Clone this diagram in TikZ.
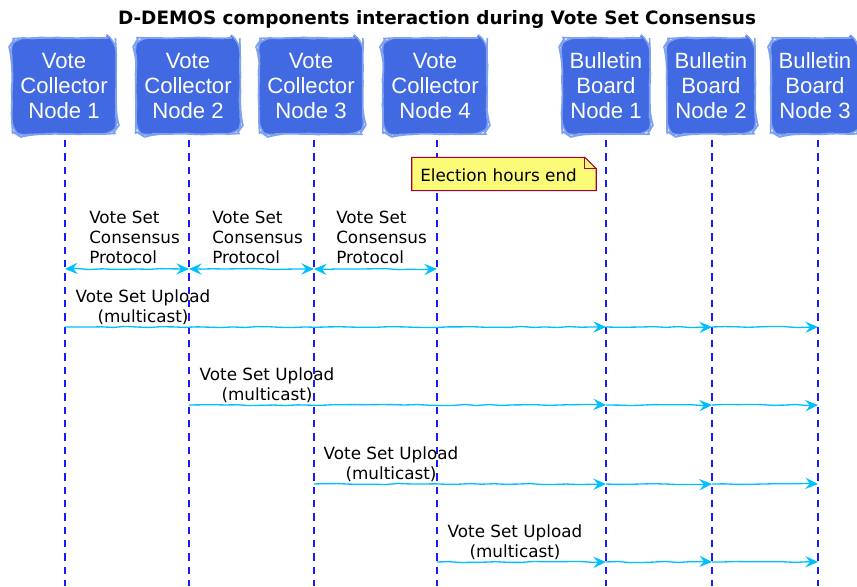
\documentclass[tikz,border=0pt]{standalone}
\usepackage{fontspec}
\setmainfont{DejaVu Sans}
\newfontfamily\boxfont{Liberation Sans}
\usetikzlibrary{arrows.meta,decorations.pathmorphing}
\definecolor{partfill}{HTML}{4169E1}
\definecolor{partedge}{HTML}{7FA2EE}
\definecolor{lifeblue}{HTML}{1A1AFF}
\definecolor{msgblue}{HTML}{00BFFF}
\definecolor{notefill}{HTML}{FBFB77}
\definecolor{noteedge}{HTML}{A80036}
\tikzset{
  x=0.75pt, y=-0.75pt,
  part/.style={draw=partedge, line width=1.2pt, fill=partfill, rounded corners=8pt,
    text=white, font=\boxfont\fontsize{16.6}{18.75}\selectfont, align=center,
    minimum height=72pt, inner sep=0pt,
    decorate, decoration={random steps, segment length=6pt, amplitude=0.4pt}},
  vcbox/.style={part, minimum width=78pt},
  bbbox/.style={part, minimum width=66pt},
  lifeline/.style={draw=lifeblue, line width=0.9pt, dash pattern=on 5.5pt off 4.5pt},
  msg/.style={draw=msgblue, line width=1pt,
    decorate, decoration={random steps, segment length=9pt, amplitude=0.45pt}},
  head/.tip={Stealth[length=9.5pt,width=8.5pt,inset=3.5pt]},
  tip/.style={-head},
  msgtxt/.style={font=\fontsize{12.6}{15}\selectfont, inner sep=0pt},
}
\begin{document}
\begin{tikzpicture}
\useasboundingbox (0,0) rectangle (857,586);

% title
\node[font=\bfseries\fontsize{13.8}{16}\selectfont] (title) at (437,19)
  {D-DEMOS components interaction during Vote Set Consensus};

% participants
\node[vcbox] (vc1) at (64,86) {Vote\\Collector\\Node 1};
\node[vcbox] (vc2) at (188,86) {Vote\\Collector\\Node 2};
\node[vcbox] (vc3) at (311,86) {Vote\\Collector\\Node 3};
\node[vcbox] (vc4) at (435,86) {Vote\\Collector\\Node 4};
\node[bbbox] (bb1) at (606,86) {Bulletin\\Board\\Node 1};
\node[bbbox] (bb2) at (711,86) {Bulletin\\Board\\Node 2};
\node[bbbox] (bb3) at (815,86) {Bulletin\\Board\\Node 3};

% lifelines
\foreach \p/\x in {vc1/65,vc2/189,vc3/314,vc4/437,bb1/606,bb2/712,bb3/818}{
  \coordinate (\p-t) at (\x,140);
  \coordinate (\p-b) at (\x,586);
  \draw[lifeline] (\p-t) -- (\p-b);
}

% note with folded corner
\node[minimum width=138pt, minimum height=24.5pt, inner sep=0pt] (note) at (504,174) {};
\draw[noteedge, line width=0.8pt, fill=notefill]
  (note.north west) -- ([xshift=-8.5pt]note.north east) -- ([yshift=-8.5pt]note.north east)
  -- (note.south east) -- (note.south west) -- cycle;
\draw[noteedge, line width=0.8pt]
  ([xshift=-8.5pt]note.north east) -- ([xshift=-8.5pt,yshift=-8.5pt]note.north east)
  -- ([yshift=-8.5pt]note.north east);
\node[font=\fontsize{12.6}{15}\selectfont, anchor=west, inner sep=0pt] (notetxt)
  at (420,175) {Election hours end};

% consensus protocol
\foreach \a/\b/\lx in {vc1/vc2/89, vc2/vc3/212, vc3/vc4/336}{
  \draw[msg, head-head] (\a-t |- 0,269) -- (\b-t |- 0,269);
  \node[msgtxt, anchor=north west, align=left] (cp-\a) at (\lx,211)
    {Vote Set\\Consensus\\Protocol};
}

% vote set uploads (multicast)
\foreach \s/\y/\cx in {vc1/327/143, vc2/405/267, vc3/484/391, vc4/562/515}{
  \draw[msg, tip] (\s-t |- 0,\y) -- (bb1-t |- 0,\y);
  \draw[msg, tip] (bb1-t |- 0,\y) -- (bb2-t |- 0,\y);
  \draw[msg, tip] (bb2-t |- 0,\y) -- (bb3-t |- 0,\y);
  \node[msgtxt, align=center, anchor=south] (up-\s) at (\cx,\y-2.5)
    {Vote Set Upload\\(multicast)};
}
\end{tikzpicture}
\end{document}
